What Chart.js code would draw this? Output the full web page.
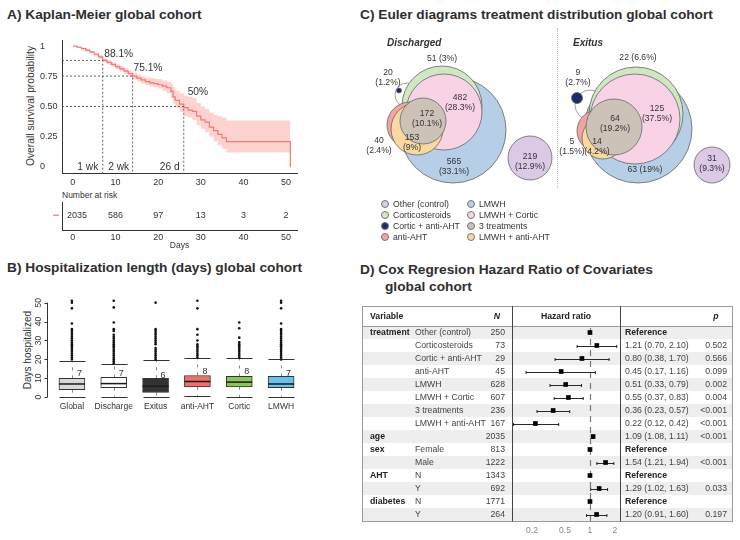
<!DOCTYPE html>
<html>
<head>
<meta charset="utf-8">
<title>Global cohort figure</title>
<script src="https://cdn.jsdelivr.net/npm/chart.js@4.4.1/dist/chart.umd.min.js"></script>
<style>
  body { margin: 0; background: #fff; }
  #page { position: relative; width: 740px; height: 540px; overflow: hidden; font-family: "Liberation Sans", Arial, sans-serif; color: #333; }
  .title { position: absolute; font-size: 13.7px; font-weight: bold; line-height: 16px; white-space: nowrap; color: #2e2e2e; }
  .cv { position: absolute; }
  .vlab { position: absolute; white-space: nowrap; transform: translate(-50%, -50%) rotate(-90deg); }
  .note { position: absolute; white-space: nowrap; line-height: 10px; }
  .sub { position: absolute; font-weight: bold; font-style: italic; font-size: 10px; white-space: nowrap; line-height: 12px; }
  #legend .item { position: absolute; font-size: 8.7px; white-space: nowrap; line-height: 10px; }
  #legend i { display: inline-block; width: 6px; height: 6px; border-radius: 50%; border: 1px solid #777; margin-right: 4px; vertical-align: -1px; }
</style>
</head>
<body>
<div id="page">
  <div class="title" style="left:7px;top:7px">A) Kaplan-Meier global cohort</div>
  <div class="title" style="left:7px;top:260px">B) Hospitalization length (days) global cohort</div>
  <div class="title" style="left:360px;top:7px">C) Euler diagrams treatment distribution global cohort</div>
  <div class="title" style="left:360px;top:262px">D) Cox Regresion Hazard Ratio of Covariates</div>
  <div class="title" style="left:385px;top:279px">global cohort</div>

  <div class="vlab" style="left:30px;top:106px;font-size:10.3px">Overall survival probability</div>
  <div class="note" style="left:62px;top:190px;font-size:8.5px">Number at risk</div>
  <div class="vlab" style="left:27px;top:350px;font-size:10px">Days hospitalized</div>

  <canvas class="cv" id="km" width="305" height="160" style="left:0;top:30px"></canvas>
  <canvas class="cv" id="risk" width="305" height="66" style="left:0;top:185px"></canvas>
  <canvas class="cv" id="los" width="310" height="125" style="left:0;top:290px"></canvas>

  <div style="position:absolute;left:557px;top:28px;height:160px;border-left:1px dotted #bbb"></div>
  <canvas class="cv" id="eulerD" width="190" height="165" style="left:363px;top:30px"></canvas>
  <canvas class="cv" id="eulerE" width="190" height="165" style="left:548px;top:29px"></canvas>
  <div class="sub" style="left:387px;top:37px">Discharged</div>
  <div class="sub" style="left:573px;top:37px">Exitus</div>
  <div id="legend"></div>

  <canvas class="cv" id="forest" width="380" height="240" style="left:360px;top:300px"></canvas>
</div>

<script>
// ---- A) Kaplan-Meier ----
const kmTimes = [0, 1, 2, 3, 4, 5, 6, 7, 8, 9, 10, 11, 12, 13, 14, 15, 16, 17, 18, 19, 20, 21, 22, 23, 23.5, 24, 25, 26, 27, 28, 29, 30, 31, 32, 33, 34, 35, 36, 51, 51];
const kmSurv = [1, 0.99, 0.978, 0.965, 0.95, 0.932, 0.91, 0.881, 0.865, 0.848, 0.83, 0.812, 0.792, 0.772, 0.751, 0.735, 0.72, 0.705, 0.695, 0.69, 0.68, 0.668, 0.655, 0.625, 0.58, 0.55, 0.52, 0.49, 0.47, 0.46, 0.42, 0.39, 0.37, 0.33, 0.30, 0.27, 0.24, 0.21, 0.21, 0];
const kmLower = [1, 0.985, 0.97, 0.955, 0.94, 0.92, 0.895, 0.865, 0.848, 0.83, 0.81, 0.79, 0.768, 0.746, 0.723, 0.705, 0.69, 0.675, 0.665, 0.66, 0.648, 0.63, 0.61, 0.57, 0.52, 0.49, 0.455, 0.42, 0.41, 0.39, 0.345, 0.315, 0.29, 0.25, 0.21, 0.18, 0.15, 0.12, 0.12, 0.12];
const kmUpper = [1, 0.995, 0.985, 0.975, 0.96, 0.945, 0.925, 0.897, 0.882, 0.866, 0.85, 0.834, 0.816, 0.798, 0.779, 0.765, 0.75, 0.74, 0.735, 0.73, 0.725, 0.715, 0.705, 0.69, 0.66, 0.63, 0.61, 0.59, 0.58, 0.57, 0.53, 0.50, 0.48, 0.45, 0.43, 0.42, 0.41, 0.385, 0.385, 0.385];
const kmXTicks = [0, 10, 20, 30, 40, 50];
const kmYTicks = [0, 0.25, 0.5, 0.75, 1];
const kmYTickLabels = ['0', '0.25', '0.50', '0.75', '1'];
const kmMarkTimes = [7, 14, 26];
const kmMarkSurv = [0.881, 0.751, 0.5];
const kmMarkPct = ['88.1%', '75.1%', '50%'];
const kmPctAt = [[10.75, 0.93], [17.6, 0.82], [29.3, 0.615]];
const kmMarkNames = ['1 wk', '2 wk', '26 d'];
const kmNameAt = [3.5, 10.75, 22.7];

const riskTimes = [0, 10, 20, 30, 40, 50];
const riskCounts = [2035, 586, 97, 13, 3, 2];

// ---- B) Hospitalization length ----
const boxGroups = ['Global', 'Discharge', 'Exitus', 'anti-AHT', 'Cortic', 'LMWH'];
const boxLower = [0, 0, 0, 0.5, 0, 0];
const boxQ1 = [4, 5, 2.5, 5.5, 5.5, 5];
const boxMedian = [7, 7.2, 5.8, 8.3, 8, 7];
const boxQ3 = [10, 10.5, 10, 11.5, 11, 11];
const boxUpper = [19, 17.5, 19.5, 20.5, 20.5, 20];
const boxMedianLabels = ['7', '7', '6', '8', '8', '7'];
const boxOutliers = [
  [20, 21, 22, 23, 24, 25, 26, 27, 28, 29, 30, 31, 32, 33, 34, 35, 36, 39, 47, 50, 51],
  [18, 19, 20, 21, 22, 23, 24, 25, 26, 27, 28, 29, 30, 31, 32, 33, 35, 36, 39.5, 47.5, 51],
  [20, 21, 22, 23, 24, 25, 26, 28, 29, 30, 31, 32, 33, 34, 35, 36, 50],
  [21, 22, 23, 24, 25, 26, 27, 28, 30, 33, 36, 47, 51],
  [21, 22, 23, 24, 25, 26, 27, 28, 29, 31.5, 36.5, 39.5],
  [20, 21, 22, 23, 24, 25, 26, 27, 28, 29, 30, 31, 32, 33, 34, 35, 36, 39, 47, 50, 51]
];
const boxYTicks = [0, 10, 20, 30, 40, 50];
const boxColors = ['#d9d9d9', '#ffffff', '#333333', '#f0706a', '#8cc65a', '#6cc0ea'];

// ---- C) Euler diagrams ----
const legendSets = ['Other (control)', 'Corticosteroids', 'Cortic + anti-AHT', 'anti-AHT', 'LMWH', 'LMWH + Cortic', '3 treatments', 'LMWH + anti-AHT'];
const dischargedCounts = [219, 51, 20, 40, 565, 482, 172, 153];
const dischargedPct = ['12.9', '3', '1.2', '2.4', '33.1', '28.3', '10.1', '9'];
const exitusCounts = [31, 22, 9, 5, 63, 125, 64, 14];
const exitusPct = ['9.3', '6.6', '2.7', '1.5', '19', '37.5', '19.2', '4.2'];
// circle layout in diagram units: [set, x, y, radius]
const dischargedLayout = [
  ['outline', -46, -35, 12], ['LMWH', 0, 0, 53], ['Corticosteroids', -11, -24, 40], ['LMWH + Cortic', -9, -18, 38],
  ['anti-AHT', -43, -5, 23], ['LMWH + anti-AHT', -36, -1, 26], ['3 treatments', -30, -9, 23],
  ['Cortic + anti-AHT', -54, -39.5, 2.5], ['Other (control)', 77, 28, 22]
];
const exitusLayout = [
  ['outline', -48, -24, 15], ['LMWH', 0, 0, 54], ['Corticosteroids', -2, -15, 47], ['LMWH + Cortic', -3, -10, 45],
  ['anti-AHT', -40, 2, 21], ['LMWH + anti-AHT', -35, 9, 21], ['3 treatments', -24, -2, 28],
  ['Cortic + anti-AHT', -61, -31, 5.5], ['Other (control)', 74, 36, 18]
];
// label anchors (legend order): [x, y, lines]
const dischargedLabelAt = [[77, 32, 2], [-11, -71, 1], [-65, -52, 2], [-74, 16, 2], [1, 37, 2], [7, -27, 2], [-26, -11, 2], [-41, 13, 2]];
const exitusLabelAt = [[74, 35, 2], [0, -71, 1], [-60, -51, 2], [-66, 18, 2], [7, 41, 1], [19, -15, 2], [-23, -5, 2], [-41, 18, 2]];

// ---- D) Cox regression ----
const forestVar = ['treatment', '', '', '', '', '', '', '', 'age', 'sex', '', 'AHT', '', 'diabetes', ''];
const forestLevel = ['Other (control)', 'Corticosteroids', 'Cortic + anti-AHT', 'anti-AHT', 'LMWH', 'LMWH + Cortic', '3 treatments', 'LMWH + anti-AHT', '', 'Female', 'Male', 'N', 'Y', 'N', 'Y'];
const forestN = [250, 73, 29, 45, 628, 607, 236, 167, 2035, 813, 1222, 1343, 692, 1771, 264];
const forestHR = [1, 1.21, 0.80, 0.45, 0.51, 0.55, 0.36, 0.22, 1.09, 1, 1.54, 1, 1.29, 1, 1.20];
const forestLo = [null, 0.70, 0.38, 0.17, 0.33, 0.37, 0.23, 0.12, 1.08, null, 1.21, null, 1.02, null, 0.91];
const forestHi = [null, 2.10, 1.70, 1.16, 0.79, 0.83, 0.57, 0.42, 1.11, null, 1.94, null, 1.63, null, 1.60];
const forestP = ['', '0.502', '0.566', '0.099', '0.002', '0.004', '<0.001', '<0.001', '<0.001', '', '<0.001', '', '0.033', '', '0.197'];
const forestTicks = [0.2, 0.5, 1, 2];
const forestTickLabels = ['0.2', '0.5', '1', '2'];

const FONT = '"Liberation Sans", Arial, sans-serif';
const KM_RED = '#ec7c74';
const setFill = {
  'outline': '#ffffff', 'Other (control)': '#dbc9e6', 'Corticosteroids': '#cfe7c2', 'Cortic + anti-AHT': '#1d2a6b',
  'anti-AHT': '#f3a4a2', 'LMWH': '#b6cfe6', 'LMWH + Cortic': '#f8d3e6', '3 treatments': '#cdc2b8', 'LMWH + anti-AHT': '#fbd89f'
};

Chart.defaults.font.family = FONT;
Chart.defaults.color = '#333';

const base = {
  responsive: false,
  animation: false,
  events: [],
  plugins: { legend: { display: false }, tooltip: { enabled: false } }
};

function pts(xs, ys) {
  return xs.map((t, i) => ({ x: t, y: ys[i] }));
}

// KM reference lines and labels
const kmAnnot = {
  id: 'kmAnnot',
  afterDatasetsDraw(chart) {
    const { ctx, chartArea: a, scales: { x, y } } = chart;
    ctx.save();
    ctx.strokeStyle = '#555';
    ctx.lineWidth = 0.9;
    ctx.setLineDash([2, 2]);
    kmMarkTimes.forEach((t, i) => {
      const px = x.getPixelForValue(t), py = y.getPixelForValue(kmMarkSurv[i]);
      ctx.beginPath();
      ctx.moveTo(a.left, py);
      ctx.lineTo(px, py);
      ctx.lineTo(px, a.bottom);
      ctx.stroke();
    });
    ctx.setLineDash([]);
    ctx.fillStyle = '#333';
    ctx.textAlign = 'center';
    ctx.textBaseline = 'middle';
    ctx.font = '10.2px ' + FONT;
    kmMarkPct.forEach((s, i) => ctx.fillText(s, x.getPixelForValue(kmPctAt[i][0]), y.getPixelForValue(kmPctAt[i][1])));
    kmMarkNames.forEach((s, i) => ctx.fillText(s, x.getPixelForValue(kmNameAt[i]), y.getPixelForValue(0)));
    ctx.restore();
  }
};

new Chart(document.getElementById('km'), {
  type: 'line',
  data: {
    datasets: [
      { data: pts(kmTimes, kmSurv), stepped: true, borderColor: KM_RED, borderWidth: 1.2, pointRadius: 0, fill: false },
      { data: pts(kmTimes, kmLower), stepped: true, borderWidth: 0, pointRadius: 0, fill: false },
      { data: pts(kmTimes, kmUpper), stepped: true, borderWidth: 0, pointRadius: 0, fill: '-1', backgroundColor: 'rgba(248,118,109,0.32)' }
    ]
  },
  options: {
    ...base,
    layout: { padding: { left: 40, top: 10, right: 8, bottom: 0 }, autoPadding: false },
    scales: {
      x: {
        type: 'linear', min: -2.55, max: 52.55,
        grid: { display: false, drawTicks: false }, border: { color: '#333' },
        afterBuildTicks: s => { s.ticks = kmXTicks.map(v => ({ value: v })); },
        ticks: { font: { size: 9 }, padding: 4, maxRotation: 0 },
        afterFit: s => { s.height = 17; }
      },
      y: {
        type: 'linear', min: -0.05, max: 1.05,
        grid: { display: false, drawTicks: false }, border: { color: '#333' },
        afterBuildTicks: s => { s.ticks = kmYTicks.map(v => ({ value: v })); },
        ticks: { font: { size: 9 }, crossAlign: 'far', callback: (v, i) => kmYTickLabels[i] },
        afterFit: s => { s.width = 22; }
      }
    }
  },
  plugins: [kmAnnot]
});

// number at risk
const riskText = {
  id: 'riskText',
  afterDatasetsDraw(chart) {
    const { ctx, chartArea: a } = chart;
    const els = chart.getDatasetMeta(0).data;
    ctx.save();
    ctx.font = '9px ' + FONT;
    ctx.fillStyle = '#333';
    ctx.textAlign = 'center';
    ctx.textBaseline = 'middle';
    els.forEach((el, i) => {
      const s = String(riskCounts[i]);
      const w = ctx.measureText(s).width;
      ctx.fillText(s, Math.max(el.x, a.left + 5 + w / 2), el.y);
    });
    ctx.strokeStyle = KM_RED;
    ctx.lineWidth = 1.2;
    ctx.beginPath();
    ctx.moveTo(a.left - 9, els[0].y);
    ctx.lineTo(a.left - 3, els[0].y);
    ctx.stroke();
    ctx.restore();
  }
};

new Chart(document.getElementById('risk'), {
  type: 'scatter',
  data: { datasets: [{ data: riskTimes.map(t => ({ x: t, y: 1 })), pointRadius: 0 }] },
  options: {
    ...base,
    layout: { padding: { left: 62, top: 17, right: 8, bottom: 0 }, autoPadding: false },
    scales: {
      x: {
        type: 'linear', min: -2.55, max: 52.55,
        grid: { display: false, drawTicks: false }, border: { color: '#333' },
        afterBuildTicks: s => { s.ticks = kmXTicks.map(v => ({ value: v })); },
        ticks: { font: { size: 9 }, padding: 2, maxRotation: 0 },
        title: { display: true, text: 'Days', font: { size: 8.5 }, padding: 0 },
        afterFit: s => { s.height = 21; }
      },
      y: {
        type: 'linear', min: 0, max: 1.9,
        grid: { display: false, drawTicks: false }, border: { color: '#333' },
        ticks: { display: false },
        afterFit: s => { s.width = 0; }
      }
    }
  },
  plugins: [riskText]
});

// ---- boxplot extras ----
const boxDraw = {
  id: 'boxDraw',
  beforeDatasetsDraw(chart) {
    const { ctx, chartArea: a, scales: { y } } = chart;
    const bars = chart.getDatasetMeta(1).data;
    ctx.save();
    const ax = Math.round(a.left - 4) + 0.5;
    ctx.strokeStyle = '#333';
    ctx.lineWidth = 1;
    ctx.beginPath();
    ctx.moveTo(ax, y.getPixelForValue(boxYTicks[0]));
    ctx.lineTo(ax, y.getPixelForValue(boxYTicks[boxYTicks.length - 1]));
    boxYTicks.forEach(v => {
      const py = Math.round(y.getPixelForValue(v)) + 0.5;
      ctx.moveTo(ax, py);
      ctx.lineTo(ax - 3, py);
    });
    ctx.stroke();
    ctx.font = '8.5px ' + FONT;
    ctx.fillStyle = '#333';
    ctx.textAlign = 'center';
    ctx.textBaseline = 'middle';
    boxYTicks.forEach(v => {
      ctx.save();
      ctx.translate(ax - 9, y.getPixelForValue(v));
      ctx.rotate(-Math.PI / 2);
      ctx.fillText(String(v), 0, 0);
      ctx.restore();
    });
    bars.forEach((bar, i) => {
      const cx = Math.round(bar.x) + 0.5, hw = bar.width / 2;
      ctx.strokeStyle = '#888';
      ctx.setLineDash([3, 5]);
      ctx.beginPath();
      ctx.moveTo(cx, y.getPixelForValue(boxQ3[i]));
      ctx.lineTo(cx, y.getPixelForValue(boxUpper[i]));
      ctx.moveTo(cx, y.getPixelForValue(boxQ1[i]));
      ctx.lineTo(cx, y.getPixelForValue(boxLower[i]));
      ctx.stroke();
      ctx.setLineDash([]);
      ctx.strokeStyle = '#333';
      ctx.beginPath();
      [boxUpper[i], boxLower[i]].forEach(v => {
        const py = Math.round(y.getPixelForValue(v)) + 0.5;
        ctx.moveTo(cx - hw, py);
        ctx.lineTo(cx + hw, py);
      });
      ctx.stroke();
    });
    ctx.restore();
  },
  afterDatasetsDraw(chart) {
    const { ctx, scales: { y } } = chart;
    const bars = chart.getDatasetMeta(1).data;
    ctx.save();
    ctx.font = '9px ' + FONT;
    ctx.textAlign = 'left';
    ctx.textBaseline = 'middle';
    bars.forEach((bar, i) => {
      const hw = bar.width / 2, py = y.getPixelForValue(boxMedian[i]);
      ctx.strokeStyle = '#1a1a1a';
      ctx.lineWidth = 1.5;
      ctx.beginPath();
      ctx.moveTo(bar.x - hw, py);
      ctx.lineTo(bar.x + hw, py);
      ctx.stroke();
      ctx.fillStyle = '#333';
      ctx.fillText(boxMedianLabels[i], bar.x + 5, y.getPixelForValue(boxMedian[i] + 5.5));
    });
    ctx.restore();
  }
};

const outlierPts = [];
boxOutliers.forEach((vals, i) => vals.forEach(v => outlierPts.push({ x: boxGroups[i], y: v })));

new Chart(document.getElementById('los'), {
  type: 'bar',
  data: {
    labels: boxGroups,
    datasets: [
      { type: 'scatter', data: outlierPts, pointRadius: 1.3, backgroundColor: '#111', borderWidth: 0 },
      { type: 'bar', data: boxQ1.map((q, i) => [q, boxQ3[i]]), backgroundColor: boxColors, borderColor: '#333', borderWidth: 1, borderSkipped: false, barThickness: 26 }
    ]
  },
  options: {
    ...base,
    layout: { padding: { left: 51, top: 7, right: 8, bottom: 0 }, autoPadding: false },
    scales: {
      x: {
        type: 'category',
        grid: { display: false, drawTicks: false }, border: { display: false },
        ticks: { font: { size: 8.5 }, padding: 1, maxRotation: 0, autoSkip: false },
        afterFit: s => { s.height = 14; }
      },
      y: { type: 'linear', min: -2, max: 53, display: false }
    }
  },
  plugins: [boxDraw]
});

// ---- Euler diagrams ----
function eulerCircles(layout) {
  return {
    id: 'eulerCircles',
    beforeDatasetsDraw(chart) {
      const { ctx, scales: { x } } = chart;
      const els = chart.getDatasetMeta(0).data;
      ctx.save();
      els.forEach((el, i) => {
        const set = layout[i][0];
        const r = Math.abs(x.getPixelForValue(layout[i][3]) - x.getPixelForValue(0));
        ctx.beginPath();
        ctx.arc(el.x, el.y, r, 0, Math.PI * 2);
        ctx.fillStyle = setFill[set];
        ctx.fill();
        ctx.lineWidth = 0.8;
        ctx.strokeStyle = set === 'outline' ? '#8c8c8c' : '#666';
        ctx.stroke();
      });
      ctx.restore();
    }
  };
}

function eulerText(labelAt, counts, pcts) {
  return {
    id: 'eulerText',
    afterDatasetsDraw(chart) {
      const { ctx, scales: { x, y } } = chart;
      ctx.save();
      ctx.font = '8.6px ' + FONT;
      ctx.fillStyle = '#333';
      ctx.textAlign = 'center';
      ctx.textBaseline = 'middle';
      labelAt.forEach((p, i) => {
        const px = x.getPixelForValue(p[0]), py = y.getPixelForValue(p[1]);
        const pct = '(' + pcts[i] + '%)';
        if (p[2] === 2) {
          ctx.fillText(String(counts[i]), px, py - 5);
          ctx.fillText(pct, px, py + 5);
        } else {
          ctx.fillText(counts[i] + ' ' + pct, px, py);
        }
      });
      ctx.restore();
    }
  };
}

function eulerChart(id, layout, labelAt, counts, pcts) {
  return new Chart(document.getElementById(id), {
    type: 'scatter',
    data: { datasets: [{ data: layout.map(c => ({ x: c[1], y: c[2] })), pointRadius: 0 }] },
    options: {
      ...base,
      layout: { padding: 0, autoPadding: false },
      scales: {
        x: { type: 'linear', min: -90, max: 100, display: false },
        y: { type: 'linear', min: -100, max: 65, reverse: true, display: false }
      }
    },
    plugins: [eulerCircles(layout), eulerText(labelAt, counts, pcts)]
  });
}

eulerChart('eulerD', dischargedLayout, dischargedLabelAt, dischargedCounts, dischargedPct);
eulerChart('eulerE', exitusLayout, exitusLabelAt, exitusCounts, exitusPct);

const legend = document.getElementById('legend');
legendSets.forEach((s, i) => {
  const el = document.createElement('span');
  el.className = 'item';
  el.style.left = (381 + Math.floor(i / 4) * 86) + 'px';
  el.style.top = (199 + (i % 4) * 11) + 'px';
  el.innerHTML = '<i style="background:' + setFill[s] + '"></i>' + s;
  legend.appendChild(el);
});

// ---- forest plot ----
const forestTable = {
  id: 'forestTable',
  beforeDatasetsDraw(chart) {
    const { ctx, chartArea: a, scales: { x, y } } = chart;
    const L = 2, R = 372, T = 6;
    ctx.save();
    ctx.fillStyle = '#eeeeee';
    forestN.forEach((n, i) => {
      if (i % 2) return;
      const t = y.getPixelForValue(i - 0.5), b = y.getPixelForValue(i + 0.5);
      ctx.fillRect(L, t, R - L, b - t);
    });
    const x1 = Math.round(x.getPixelForValue(1)) + 0.5;
    ctx.strokeStyle = '#777';
    ctx.lineWidth = 1.2;
    ctx.setLineDash([6, 5]);
    ctx.beginPath();
    ctx.moveTo(x1, a.top + 2);
    ctx.lineTo(x1, a.bottom);
    ctx.stroke();
    ctx.setLineDash([]);
    ctx.strokeStyle = '#111';
    ctx.lineWidth = 0.9;
    forestLo.forEach((lo, i) => {
      if (lo === null) return;
      const py = Math.round(y.getPixelForValue(i)) + 0.5;
      const xl = x.getPixelForValue(lo), xh = x.getPixelForValue(forestHi[i]);
      ctx.beginPath();
      ctx.moveTo(xl, py);
      ctx.lineTo(xh, py);
      ctx.moveTo(xl, py - 1.5);
      ctx.lineTo(xl, py + 1.5);
      ctx.moveTo(xh, py - 1.5);
      ctx.lineTo(xh, py + 1.5);
      ctx.stroke();
    });
    ctx.strokeStyle = '#9a9a9a';
    ctx.lineWidth = 1;
    ctx.strokeRect(L + 0.5, T + 0.5, R - L, a.bottom - T);
    ctx.beginPath();
    ctx.moveTo(L, Math.round(a.top) + 0.5);
    ctx.lineTo(R, Math.round(a.top) + 0.5);
    ctx.stroke();
    ctx.strokeStyle = '#444';
    [a.left, a.right].forEach(px => {
      ctx.beginPath();
      ctx.moveTo(Math.round(px) + 0.5, T);
      ctx.lineTo(Math.round(px) + 0.5, a.bottom + 0.5);
      ctx.stroke();
    });
    ctx.restore();
  },
  afterDraw(chart) {
    const { ctx, chartArea: a, scales: { y } } = chart;
    const T = 6;
    ctx.save();
    ctx.textBaseline = 'middle';
    ctx.fillStyle = '#222';
    const hy = (T + a.top) / 2 + 1;
    ctx.font = 'bold 8.7px ' + FONT;
    ctx.textAlign = 'left';
    ctx.fillText('Variable', 10, hy);
    ctx.textAlign = 'center';
    ctx.fillText('Hazard ratio', (a.left + a.right) / 2, hy);
    ctx.font = 'italic bold 8.7px ' + FONT;
    ctx.fillText('N', 137, hy);
    ctx.fillText('p', 356, hy);
    forestN.forEach((n, i) => {
      const py = y.getPixelForValue(i) + 0.5;
      ctx.fillStyle = '#222';
      ctx.font = 'bold 8.7px ' + FONT;
      ctx.textAlign = 'left';
      if (forestVar[i]) ctx.fillText(forestVar[i], 10, py);
      ctx.fillStyle = '#444';
      ctx.font = '8.7px ' + FONT;
      ctx.fillText(forestLevel[i], 55, py);
      ctx.textAlign = 'right';
      ctx.fillText(String(n), 145, py);
      ctx.textAlign = 'left';
      if (forestLo[i] === null) {
        ctx.fillStyle = '#222';
        ctx.font = 'bold 8.7px ' + FONT;
        ctx.fillText('Reference', 265, py);
      } else {
        ctx.fillText(forestHR[i].toFixed(2) + ' (' + forestLo[i].toFixed(2) + ', ' + forestHi[i].toFixed(2) + ')', 265, py);
        ctx.textAlign = 'right';
        ctx.fillText(forestP[i], 367, py);
      }
    });
    ctx.restore();
  }
};

new Chart(document.getElementById('forest'), {
  type: 'scatter',
  data: {
    datasets: [{
      data: forestHR.map((v, i) => ({ x: v, y: i })),
      pointStyle: 'rect', pointRadius: 3.3, backgroundColor: '#000', borderWidth: 0
    }]
  },
  options: {
    ...base,
    layout: { padding: { left: 152, right: 120, top: 26, bottom: 0 }, autoPadding: false },
    scales: {
      x: {
        type: 'logarithmic', min: 0.115, max: 2.3,
        grid: { display: false, drawTicks: false }, border: { display: false },
        afterBuildTicks: s => { s.ticks = forestTicks.map(v => ({ value: v })); },
        ticks: { color: '#888', font: { size: 8.5 }, padding: 5, maxRotation: 0, autoSkip: false, callback: (v, i) => forestTickLabels[i] },
        afterFit: s => { s.height = 19; }
      },
      y: { type: 'linear', min: -0.5, max: 14.5, reverse: true, display: false }
    }
  },
  plugins: [forestTable]
});
</script>
</body>
</html>
